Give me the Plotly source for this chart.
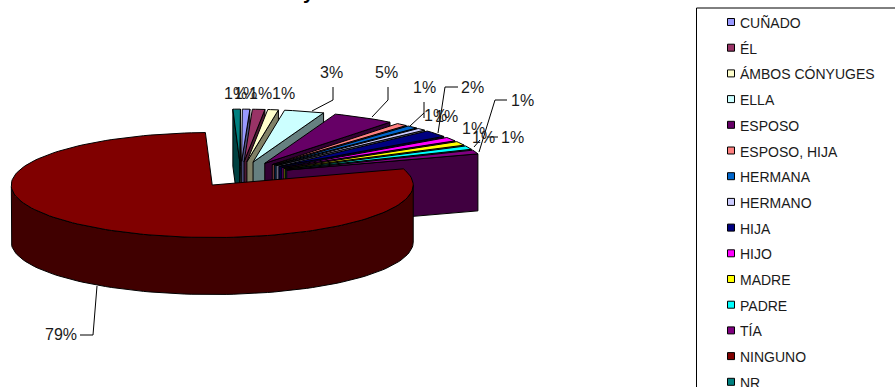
import math
import plotly.graph_objects as go

# Data (clockwise from the first slice), percent shares and printed labels
categories = ["CUÑADO", "ÉL", "ÁMBOS CÓNYUGES", "ELLA", "ESPOSO", "ESPOSO, HIJA", "HERMANA",
              "HERMANO", "HIJA", "HIJO", "MADRE", "PADRE", "TÍA", "NINGUNO", "NR"]
values = [0.6, 1.0, 0.85, 3.2, 5.0, 0.9, 0.9, 0.7, 2.1, 1.2, 1.2, 1.1, 1.2, 79.45, 0.6]
value_labels = ["1%", "1%", "1%", "3%", "5%", "1%", "1%", "1%", "2%", "1%", "1%", "1%", "1%", "79%", "1%"]
colors = ["#9999FF", "#993366", "#FFFFCC", "#CCFFFF", "#660066", "#FF8080", "#0066CC",
          "#CCCCFF", "#000080", "#FF00FF", "#FFFF00", "#00FFFF", "#800080", "#800000", "#008080"]
side_colors = ["#4D4D80", "#4D1A33", "#808066", "#668080", "#330033", "#804040", "#003366",
               "#666680", "#000040", "#800080", "#808000", "#008080", "#400040", "#400000", "#004040"]

# Pie projection (axes are in page pixels)
CX, CY, RX, RY = 240.5, 174.5, 201.0, 52.5
DEPTH, EXPLODE = 57.0, 0.245
FIRST_ANGLE = 0.2
FONT = "Liberation Sans, Arial, sans-serif"

# label centre, leader polyline — same order as categories
label_layout = [
    ((245, 93), None),
    ((260, 93), None),
    ((283, 93), None),
    ((331, 72), [(333, 87), (333, 100), (312, 111)]),
    ((386, 72), [(388, 87), (388, 100), (372, 117)]),
    ((424, 87), [(424, 102), (424, 118)]),
    ((435, 115), [(424, 113), (410, 126)]),
    ((446, 116), None),
    ((472, 87), [(458, 87), (445, 87), (438, 133)]),
    ((473, 128), [(474, 147), (480, 140)]),
    ((483, 137), None),
    ((512, 137), [(498, 137), (487, 137)]),
    ((522, 100), [(507, 100), (495, 100), (479, 152)]),
    ((61, 334), [(80, 335), (93, 335), (97, 286)]),
    ((235, 93), None),
]


def pt(tip, theta, r=1.0, dz=0.0):
    a = math.radians(theta)
    return tip[0] + r * RX * math.sin(a), tip[1] - r * RY * math.cos(a) + dz


fig = go.Figure()


def poly(points, fill):
    xs = [p[0] for p in points] + [points[0][0]]
    ys = [p[1] for p in points] + [points[0][1]]
    fig.add_trace(go.Scatter(x=xs, y=ys, mode="lines", fill="toself", fillcolor=fill,
                             line=dict(color="#000000", width=1), hoverinfo="skip", showlegend=False))


total = sum(values)
spans, a0 = [], FIRST_ANGLE
for v in values:
    a1 = a0 + v / total * 360
    spans.append((a0, a1))
    a0 = a1

# Painter's order: NR (wraps to the back) first, then clockwise, with NINGUNO in front
order = [14] + list(range(13)) + [13]
for i in order:
    start, end = spans[i]
    mid = (start + end) / 2
    tip = pt((CX, CY), mid, EXPLODE)
    steps = max(4, int((end - start) / 2))
    arc = [start + (end - start) * k / steps for k in range(steps + 1)]
    # start wall, end wall, outer rim, then top
    if math.sin(math.radians(start)) < 0:
        s = pt(tip, start)
        poly([tip, s, (s[0], s[1] + DEPTH), (tip[0], tip[1] + DEPTH)], side_colors[i])
    if math.sin(math.radians(end)) > 0:
        e = pt(tip, end)
        poly([tip, e, (e[0], e[1] + DEPTH), (tip[0], tip[1] + DEPTH)], side_colors[i])
    rim = [a for a in arc if math.cos(math.radians(a)) < 0]
    if rim:
        poly([pt(tip, a) for a in rim] + [pt(tip, a, dz=DEPTH) for a in reversed(rim)], side_colors[i])
    poly([tip] + [pt(tip, a) for a in arc], colors[i])

# Value labels and leader lines
for lab, (pos, leader) in zip(value_labels, label_layout):
    fig.add_annotation(x=pos[0], y=pos[1], text=lab, showarrow=False,
                       font=dict(family=FONT, size=16, color="#1a1a1a"))
    if leader:
        fig.add_trace(go.Scatter(x=[p[0] for p in leader], y=[p[1] for p in leader], mode="lines",
                                 line=dict(color="#000000", width=1), hoverinfo="skip", showlegend=False))

# Legend box: runs off the bottom and right of the page
LEG_TOP, LEG_STEP = 22, 25.7
leg_y = [LEG_TOP + k * LEG_STEP for k in range(len(categories))]
fig.add_shape(type="rect", x0=696.5, y0=8, x1=960, y1=440, line=dict(color="#000000", width=1),
              fillcolor="#FFFFFF", layer="below")
fig.add_trace(go.Scatter(x=[731] * len(categories), y=leg_y, mode="markers",
                         marker=dict(symbol="square", size=7, color=colors,
                                     line=dict(color="#000000", width=1)),
                         hoverinfo="skip", showlegend=False))
for name, y in zip(categories, leg_y):
    fig.add_annotation(x=737.5, y=y + 1, text=name, showarrow=False, xanchor="left",
                       font=dict(family=FONT, size=14, color="#1a1a1a"))

# Only the descender of the cropped chart title shows at the top of the reference
fig.add_annotation(x=309, y=5, text="<b>y</b>", showarrow=False, yanchor="bottom",
                   font=dict(family=FONT, size=20, color="#000000"))

fig.update_layout(width=895, height=387, margin=dict(l=0, r=0, t=0, b=0), autosize=False,
                  paper_bgcolor="#FFFFFF", plot_bgcolor="#FFFFFF", showlegend=False,
                  xaxis=dict(range=[0, 895], visible=False, fixedrange=True),
                  yaxis=dict(range=[387, 0], visible=False, fixedrange=True))
fig.write_html("out.html", config={"displayModeBar": False},
               post_script="document.body.style.margin='0';document.body.style.overflow='hidden';")
